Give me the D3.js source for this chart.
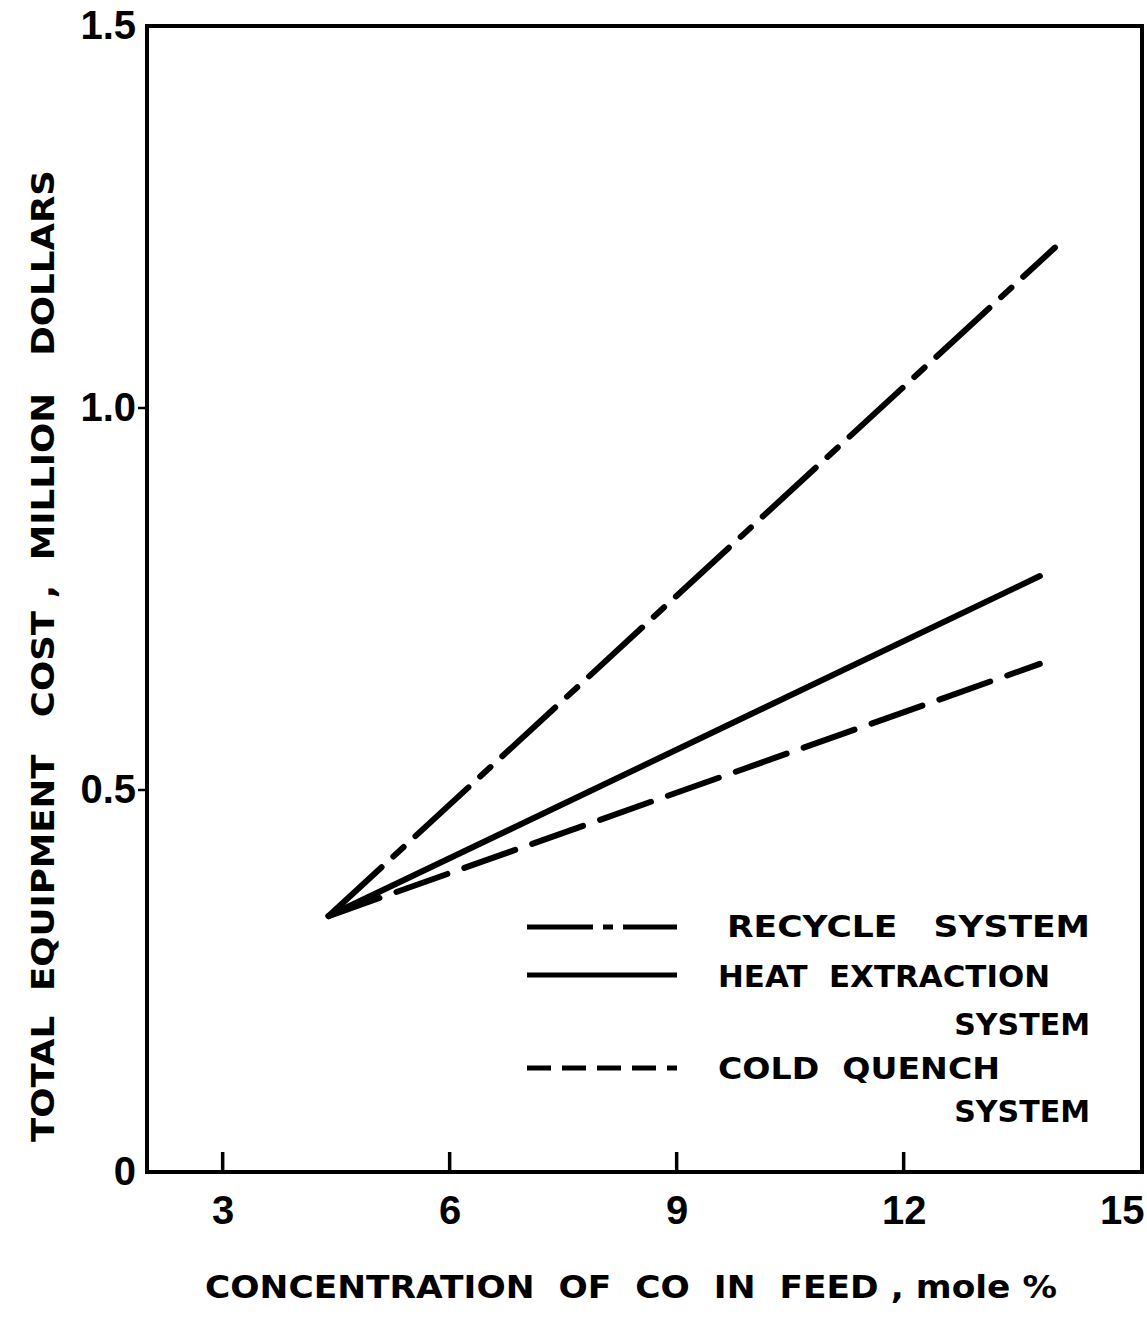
<!DOCTYPE html>
<html>
<head>
<meta charset="utf-8">
<script src="https://cdn.jsdelivr.net/npm/d3@7.9.0/dist/d3.min.js"></script>
<style>
  body { margin: 0; background: #fff; }
  svg { display: block; }
  text { font-family: "DejaVu Sans", sans-serif; font-weight: bold; fill: #000; white-space: pre; }
</style>
</head>
<body>
<svg id="chart" width="1147" height="1324"></svg>
<script>
// values
const recycleX = [4.4, 14.0];
const recycleY = [0.335, 1.21];
const heatX = [4.4, 13.8];
const heatY = [0.335, 0.78];
const quenchX = [4.4, 13.8];
const quenchY = [0.335, 0.665];

const xTicks = [3, 6, 9, 12, 15];
const xTickMarks = [3, 6, 9, 12];
const yTicks = [0, 0.5, 1.0, 1.5];
const yTickLabels = ["0", "0.5", "1.0", "1.5"];
const yTickMarks = [0.5, 1.0];

const seriesNames = ["RECYCLE   SYSTEM", "HEAT  EXTRACTION", "COLD  QUENCH"];

const svg = d3.select("#chart");
svg.append("rect").attr("width", 1147).attr("height", 1324).attr("fill", "#fff");

const plotL = 147, plotR = 1142, plotT = 26, plotB = 1172;
const x = d3.scaleLinear().domain([2, 15.15]).range([plotL, plotR]);
const y = d3.scaleLinear().domain([0, 1.5]).range([plotB, plotT]);

// frame
svg.append("rect")
  .attr("x", plotL).attr("y", plotT)
  .attr("width", plotR - plotL).attr("height", plotB - plotT)
  .attr("fill", "none").attr("stroke", "#000").attr("stroke-width", 4);

const tickFont = "'Liberation Sans', Arial, sans-serif";

// x axis: inward ticks, labels below
const xAxis = svg.append("g").attr("transform", `translate(0,${plotB})`)
  .call(d3.axisBottom(x).tickValues(xTicks).tickSize(0).tickPadding(24).tickFormat(d3.format("d")));
xAxis.select(".domain").remove();
xAxis.selectAll("text").attr("font-size", 40).style("font-family", tickFont);
// the last label sits against the right edge, as in the source
xAxis.selectAll(".tick").filter(d => d === 15).select("text")
  .attr("text-anchor", "end").attr("x", plotR + 2 - x(15));

svg.append("g").selectAll("line")
  .data(xTickMarks)
  .join("line")
  .attr("x1", d => x(d)).attr("x2", d => x(d))
  .attr("y1", plotB).attr("y2", plotB - 20)
  .attr("stroke", "#000").attr("stroke-width", 3.5);

// y axis: short outward ticks
const yAxis = svg.append("g").attr("transform", `translate(${plotL},0)`)
  .call(d3.axisLeft(y).tickValues(yTicks).tickSize(0).tickPadding(11)
    .tickFormat((d, i) => yTickLabels[i]));
yAxis.select(".domain").remove();
yAxis.selectAll("text").attr("font-size", 40).style("font-family", tickFont);

svg.append("g").selectAll("line")
  .data(yTickMarks)
  .join("line")
  .attr("x1", plotL - 9).attr("x2", plotL)
  .attr("y1", d => y(d)).attr("y2", d => y(d))
  .attr("stroke", "#000").attr("stroke-width", 2.5);

// curves
const line = d3.line().x(d => x(d[0])).y(d => y(d[1]));
const series = [
  { xs: recycleX, ys: recycleY, dash: "72,16,14,16" },
  { xs: heatX, ys: heatY, dash: null },
  { xs: quenchX, ys: quenchY, dash: "54,18" }
];
series.forEach(s => {
  svg.append("path")
    .datum(d3.zip(s.xs, s.ys))
    .attr("d", line)
    .attr("fill", "none")
    .attr("stroke", "#000")
    .attr("stroke-width", 6)
    .attr("stroke-linecap", "round")
    .attr("stroke-dasharray", s.dash);
});

// legend
const legendY = [927, 975, 1068];
const legend = svg.append("g");
series.forEach((s, i) => {
  legend.append("line")
    .attr("x1", 527).attr("x2", 677)
    .attr("y1", legendY[i]).attr("y2", legendY[i])
    .attr("stroke", "#000").attr("stroke-width", 5)
    .attr("stroke-dasharray", i === 0 ? "66,10,10,10" : (i === 2 ? "24,11" : null));
});
legend.append("text").attr("x", 727).attr("y", 937).attr("font-size", 30)
  .attr("textLength", 363).attr("lengthAdjust", "spacingAndGlyphs")
  .text(seriesNames[0]);
legend.append("text").attr("x", 718).attr("y", 987).attr("font-size", 30)
  .attr("textLength", 332).attr("lengthAdjust", "spacingAndGlyphs")
  .text(seriesNames[1]);
legend.append("text").attr("x", 1090).attr("y", 1035).attr("font-size", 30)
  .attr("text-anchor", "end")
  .text("SYSTEM");
legend.append("text").attr("x", 718).attr("y", 1079).attr("font-size", 30)
  .attr("textLength", 282).attr("lengthAdjust", "spacingAndGlyphs")
  .text(seriesNames[2]);
legend.append("text").attr("x", 1090).attr("y", 1122).attr("font-size", 30)
  .attr("text-anchor", "end")
  .text("SYSTEM");

// axis titles
svg.append("text")
  .attr("x", 205).attr("y", 1298).attr("font-size", 32)
  .attr("textLength", 852).attr("lengthAdjust", "spacingAndGlyphs")
  .text("CONCENTRATION  OF  CO  IN  FEED , mole %");

svg.append("text")
  .attr("transform", "translate(54,1142) rotate(-90)")
  .attr("font-size", 32)
  .attr("textLength", 972).attr("lengthAdjust", "spacingAndGlyphs")
  .text("TOTAL  EQUIPMENT   COST ,  MILLION   DOLLARS");
</script>
</body>
</html>
